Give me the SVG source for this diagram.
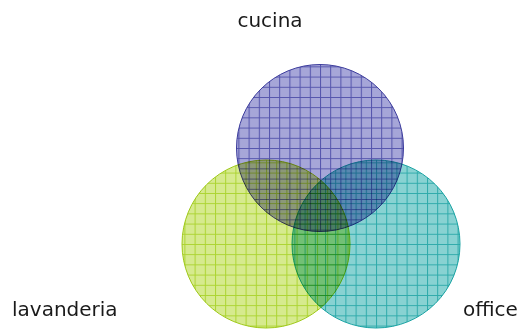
<svg xmlns="http://www.w3.org/2000/svg" width="523" height="329" viewBox="0 0 523 329">
<style>
.node { mix-blend-mode: multiply; }
.lbl { font-family: "DejaVu Sans", Verdana, sans-serif; font-size: 20px; fill: #1a1a1a; }
.grid { stroke-width: 1; }
</style>
<defs>
<pattern id="pC" patternUnits="userSpaceOnUse" x="320" y="148" width="10.2" height="10.2">
<rect width="10.2" height="10.2" fill="#a6a6d8"/>
<path d="M0.5 0V10.2M0 0.5H10.2" stroke="#5454ac" stroke-width="1"/>
</pattern>
<pattern id="pL" patternUnits="userSpaceOnUse" x="266" y="244" width="10.2" height="10.2">
<rect width="10.2" height="10.2" fill="#d6ea8e"/>
<path d="M0.5 0V10.2M0 0.5H10.2" stroke="#acd432" stroke-width="1"/>
</pattern>
<pattern id="pO" patternUnits="userSpaceOnUse" x="376" y="244" width="10.2" height="10.2">
<rect width="10.2" height="10.2" fill="#88d2d2"/>
<path d="M0.5 0V10.2M0 0.5H10.2" stroke="#2eaaaa" stroke-width="1"/>
</pattern>
</defs>
<rect width="523" height="329" fill="#ffffff"/>
<g id="connectors"/>
<g id="cucina" class="node">
<circle cx="320" cy="148" r="83.5" fill="url(#pC)" stroke="#3c3c9c" stroke-width="1"/>
</g>
<g id="lavanderia" class="node">
<circle cx="266" cy="244" r="84" fill="url(#pL)" stroke="#9ec818" stroke-width="1"/>
</g>
<g id="office" class="node">
<circle cx="376" cy="244" r="84" fill="url(#pO)" stroke="#18a2a2" stroke-width="1"/>
</g>
<g id="labels">
<text class="lbl" x="270" y="27" text-anchor="middle">cucina</text>
<text class="lbl" x="12" y="316">lavanderia</text>
<text class="lbl" x="463" y="316">office</text>
</g>
</svg>
